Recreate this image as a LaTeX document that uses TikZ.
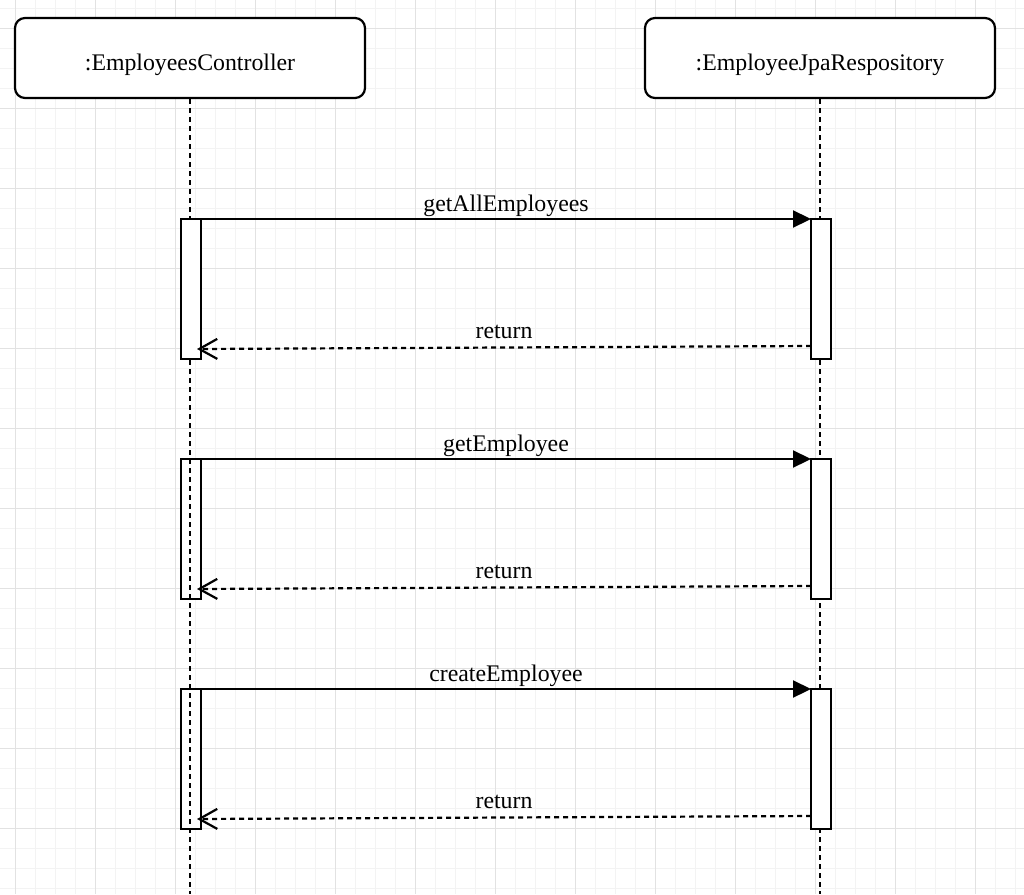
\documentclass[tikz,border=0pt]{standalone}
\usepackage{fontspec}
\setmainfont{Liberation Serif}
\usepackage{tikz}
\usetikzlibrary{arrows.meta, positioning}
\usepackage{xcolor}
\definecolor{gridminor}{RGB}{243,243,243}
\definecolor{gridmajor}{RGB}{226,226,226}
\tikzset{%
	lifeline head/.style={
		draw,
		rounded corners=10pt,
		line width=2.2pt,
		fill=white,
		minimum width=350pt,
		minimum height=80pt,
		text height=25pt,
		text depth=0pt
	},
	activation/.style={
		draw,
		line width=2.2pt,
		fill=white,
		outer sep=0pt,
		minimum width=20pt,
		minimum height=140pt
	},
	lifeline/.style={
		draw,
		line width=2.2pt,
		dash pattern=on 5pt off 4pt
	},
}

\begin{document}
\begin{tikzpicture}[
			x=1pt, y=-1pt,
			every node/.style={font=\fontsize{23.8pt}{28pt}\selectfont},
			call msg/.style={draw, line width=2.2pt, -{Triangle[length=18pt,width=17pt]}},
			return msg/.style={draw, line width=2.2pt, dash pattern=on 5pt off 4pt, -{Straight Barb[length=18pt,width=20pt,line width=2.2pt]}},
			msg label/.style={anchor=base, inner sep=0pt}
			]
			\useasboundingbox (0,0) rectangle (1024,894);
			
			% Background grid
			\foreach \gx in {15,35,...,1015} \draw[gridminor, line width=1pt] (\gx,0) -- (\gx,894);
			\foreach \gy in {8,28,...,888} \draw[gridminor, line width=1pt] (0,\gy) -- (1024,\gy);
			\foreach \gx in {15,95,...,1015} \draw[gridmajor, line width=1pt] (\gx,0) -- (\gx,894);
			\foreach \gy in {28,108,...,828} \draw[gridmajor, line width=1pt] (0,\gy) -- (1024,\gy);
			
			% Heads of the lifelines
			\node[lifeline head] (ctrl) at (190,58) {:EmployeesController};
			\node[lifeline head] (repo) at (820,58) {:EmployeeJpaRespository};
			\coordinate (ctrl end) at (190,894);
			\coordinate (repo end) at (820,894);
			
			% Activations that the lifeline runs through
			\node[activation] (actC2) at (191,529) {};
			\node[activation] (actC3) at (191,759) {};
			
			% Lifelines
			\draw[lifeline] (ctrl) -- (ctrl end);
			\draw[lifeline] (repo) -- (repo end);
			
			% Activations on top
			\node[activation] (actC1) at (191,289) {};
			\foreach \i/\y in {1/289, 2/529, 3/759}
				\node[activation] (actR\i) at (821,\y) {};
			
			% Messages
			\foreach \i/\msg in {1/getAllEmployees, 2/getEmployee, 3/createEmployee} {
				\draw[call msg] (actC\i.north east) -- node[msg label, yshift=7.5pt] (call\i) {\msg} (actR\i.north west);
				\draw[return msg] ([yshift=13pt]actR\i.south west) -- node[msg label, yshift=9.5pt] (ret\i) {return} ([xshift=-4pt,yshift=10pt]actC\i.south east);
			}
			
		\end{tikzpicture}
\end{document}
